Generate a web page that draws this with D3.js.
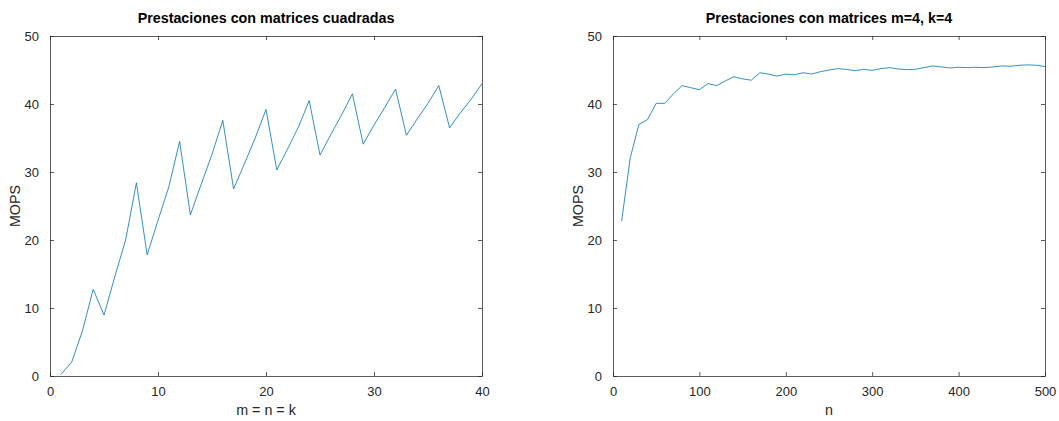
<!DOCTYPE html>
<html>
<head>
<meta charset="utf-8">
<script src="https://cdn.jsdelivr.net/npm/d3@7"></script>
<style>
  body { margin: 0; background: #fff; }
  text { font-family: "Liberation Sans", Arial, Helvetica, sans-serif; }
</style>
</head>
<body>
<div id="wrapper"></div>
<script>

// left chart: square matrices, m = n = k
const squareSizes = [1, 2, 3, 4, 5, 6, 7, 8, 9, 10,
  11, 12, 13, 14, 15, 16, 17, 18, 19, 20,
  21, 22, 23, 24, 25, 26, 27, 28, 29, 30,
  31, 32, 33, 34, 35, 36, 37, 38, 39, 40]
const squareMops = [0.2, 2.0, 6.6, 12.75, 8.95, 14.6, 20.0, 28.4, 17.8, 22.9,
  27.8, 34.5, 23.7, 28.2, 32.6, 37.6, 27.5, 31.2, 35.0, 39.2,
  30.3, 33.4, 36.6, 40.5, 32.5, 35.5, 38.4, 41.5, 34.1, 36.9,
  39.5, 42.2, 35.4, 37.8, 40.1, 42.7, 36.5, 38.7, 40.7, 43.0]

// right chart: m=4, k=4, varying n
const nValues = [10, 20, 30, 40, 50, 60, 70, 80, 90, 100,
  110, 120, 130, 140, 150, 160, 170, 180, 190, 200,
  210, 220, 230, 240, 250, 260, 270, 280, 290, 300,
  310, 320, 330, 340, 350, 360, 370, 380, 390, 400,
  410, 420, 430, 440, 450, 460, 470, 480, 490, 500]
const nMops = [22.8, 32.1, 37.0, 37.7, 40.1, 40.1, 41.5, 42.7, 42.4, 42.1,
  43.0, 42.7, 43.4, 44.0, 43.7, 43.5, 44.6, 44.4, 44.1, 44.4,
  44.3, 44.6, 44.4, 44.75, 45.0, 45.2, 45.1, 44.9, 45.1, 44.95,
  45.2, 45.35, 45.15, 45.05, 45.1, 45.35, 45.6, 45.45, 45.3, 45.4,
  45.35, 45.4, 45.35, 45.45, 45.6, 45.55, 45.7, 45.75, 45.7, 45.5]

const yTicks = [0, 10, 20, 30, 40, 50]
const leftXTicks = [0, 10, 20, 30, 40]
const rightXTicks = [0, 100, 200, 300, 400, 500]

const width = 1059
const height = 421
const axisColor = "#262626"
const lineColor = "#0072bd"

const svg = d3.select("#wrapper")
  .append("svg")
    .attr("width", width)
    .attr("height", height)

function drawPanel(opts) {
  const xScale = d3.scaleLinear()
    .domain(opts.xDomain)
    .range([opts.left, opts.right])
  const yScale = d3.scaleLinear()
    .domain([0, 50])
    .range([opts.bottom, opts.top])

  const g = svg.append("g")

  // axes, ticks inward on all four sides
  const styleAxis = sel => {
    sel.selectAll(".domain").attr("stroke", axisColor).attr("stroke-opacity", 0.75)
    sel.selectAll(".tick line").attr("stroke", axisColor).attr("stroke-opacity", 0.75)
    sel.selectAll(".tick text")
      .attr("fill", axisColor)
      .style("font-size", "13px")
      .style("font-family", '"Liberation Sans", Arial, sans-serif')
  }

  g.append("g")
      .attr("transform", `translate(0,${opts.bottom})`)
      .call(d3.axisBottom(xScale).tickValues(opts.xTicks)
        .tickSizeInner(-4).tickSizeOuter(0).tickPadding(11))
      .call(styleAxis)
  g.append("g")
      .attr("transform", `translate(0,${opts.top})`)
      .call(d3.axisTop(xScale).tickValues(opts.xTicks)
        .tickSizeInner(-4).tickSizeOuter(0).tickFormat(""))
      .call(styleAxis)
  g.append("g")
      .attr("transform", `translate(${opts.left},0)`)
      .call(d3.axisLeft(yScale).tickValues(yTicks)
        .tickSizeInner(-4).tickSizeOuter(0).tickPadding(11))
      .call(styleAxis)
  g.append("g")
      .attr("transform", `translate(${opts.right},0)`)
      .call(d3.axisRight(yScale).tickValues(yTicks)
        .tickSizeInner(-4).tickSizeOuter(0).tickFormat(""))
      .call(styleAxis)

  // the data line
  const line = d3.line()
    .x((d, i) => xScale(opts.xs[i]))
    .y(d => yScale(d))
  g.append("path")
      .datum(opts.ys)
      .attr("d", line)
      .attr("fill", "none")
      .attr("stroke", lineColor)
      .attr("stroke-width", 0.8)

  // labels
  const cx = (opts.left + opts.right) / 2
  g.append("text")
      .attr("x", cx)
      .attr("y", 22.5)
      .attr("text-anchor", "middle")
      .attr("fill", "#000")
      .style("font-size", "14.3px")
      .style("font-weight", "bold")
      .text(opts.title)
  g.append("text")
      .attr("x", cx)
      .attr("y", 415)
      .attr("text-anchor", "middle")
      .attr("fill", axisColor)
      .style("font-size", "14.3px")
      .text(opts.xLabel)
  g.append("text")
      .attr("transform", `translate(${opts.left - 30},${(opts.top + opts.bottom) / 2}) rotate(-90)`)
      .attr("text-anchor", "middle")
      .attr("fill", axisColor)
      .style("font-size", "14.3px")
      .text("MOPS")
}

drawPanel({
  xs: squareSizes, ys: squareMops,
  xDomain: [0, 40], xTicks: leftXTicks,
  left: 50, right: 482, top: 36, bottom: 376,
  title: "Prestaciones con matrices cuadradas",
  xLabel: "m = n = k",
})

drawPanel({
  xs: nValues, ys: nMops,
  xDomain: [0, 500], xTicks: rightXTicks,
  left: 613, right: 1045, top: 36, bottom: 376,
  title: "Prestaciones con matrices m=4, k=4",
  xLabel: "n",
})

</script>
</body>
</html>
